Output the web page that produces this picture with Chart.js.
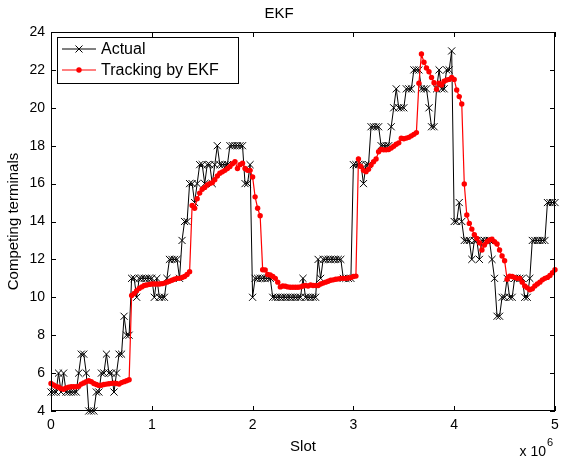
<!DOCTYPE html>
<html>
<head>
<meta charset="utf-8">
<script src="https://cdn.jsdelivr.net/npm/chart.js@4.4.0/dist/chart.umd.min.js"></script>
<style>
  html, body { margin: 0; padding: 0; background: #fff; }
</style>
</head>
<body>
<canvas id="ekfChart" width="561" height="460"></canvas>
<script>
// slot axis is in units of 10^6, one sample every 0.025 (= 25000 slots)
const slotStep = 0.025;

// actual number of competing terminals
const actualTerminals = [
  5, 5, 5, 6, 5, 6, 5, 5, 5, 5,
  5, 6, 7, 7, 6, 4, 4, 4, 5, 5,
  6, 6, 7, 6, 6, 5, 6, 7, 7, 9,
  8, 8, 11, 11, 10, 11, 11, 11, 11, 11,
  11, 10, 11, 10, 10, 10, 11, 12, 12, 12,
  12, 11, 13, 14, 14, 16, 16, 15, 16, 17,
  17, 16, 17, 17, 16, 17, 18, 17, 17, 17,
  17, 18, 18, 18, 18, 18, 18, 16, 16, 17,
  10, 11, 11, 11, 11, 11, 11, 11, 10, 10,
  10, 10, 10, 10, 10, 10, 10, 10, 10, 10,
  11, 10, 10, 10, 10, 10, 12, 11, 12, 12,
  12, 12, 12, 12, 12, 12, 11, 11, 11, 11,
  17, 17, 17, 17, 16, 17, 17, 19, 19, 19,
  19, 18, 18, 18, 18, 19, 20, 21, 20, 20,
  20, 21, 21, 21, 22, 22, 22, 21, 21, 21,
  20, 19, 19, 21, 22, 21, 21, 22, 22, 23,
  14, 14, 15, 14, 13, 13, 13, 12, 13, 13,
  12, 13, 13, 13, 13, 12, 11, 9, 9, 10,
  10, 11, 10, 10, 11, 11, 11, 11, 10, 10,
  11, 13, 13, 13, 13, 13, 13, 15, 15, 15,
  15
];

// EKF estimate of the number of competing terminals
const ekfTracking = [
  5.45, 5.37, 5.3, 5.25, 5.18, 5.15, 5.22, 5.25, 5.28, 5.28,
  5.28, 5.3, 5.42, 5.48, 5.55, 5.6, 5.55, 5.45, 5.4, 5.35,
  5.36, 5.4, 5.42, 5.44, 5.46, 5.47, 5.45, 5.42, 5.5, 5.55,
  5.6, 5.65, 10.1, 10.2, 10.35, 10.47, 10.55, 10.62, 10.65, 10.68,
  10.7, 10.7, 10.7, 10.7, 10.72, 10.75, 10.8, 10.85, 10.9, 10.95,
  11.0, 11.0, 11.05, 11.1, 11.2, 11.35, 14.85, 14.7, 15.2, 15.5,
  15.7, 15.8, 15.93, 16.0, 16.05, 16.2, 16.4, 16.55, 16.62, 16.7,
  16.8, 16.9, 17.05, 17.16, 16.8, 17.0, 17.07, 16.8, 16.7, 16.7,
  16.35, 15.3, 14.7, 14.3, 11.45, 11.44, 11.2, 11.18, 11.1, 11.0,
  10.8, 10.55, 10.6, 10.58, 10.55, 10.53, 10.53, 10.53, 10.53, 10.55,
  10.6, 10.62, 10.6, 10.65, 10.62, 10.62, 10.62, 10.7, 10.75, 10.8,
  10.85, 10.9, 10.92, 10.95, 10.97, 11.0, 11.0, 11.0, 11.02, 11.04,
  11.1, 11.12, 17.3, 16.9, 16.7, 16.63, 16.76, 16.98, 17.15, 17.3,
  17.68, 17.8, 17.78, 17.78, 17.8, 17.88, 17.97, 18.08, 18.15, 18.39,
  18.37, 18.4, 18.44, 18.52, 18.6, 18.69, 21.3, 22.84, 22.4, 22.1,
  21.9, 21.6, 21.32, 20.98, 21.3, 21.2, 21.4, 21.47, 21.5, 21.6,
  21.5, 20.94, 20.59, 20.2, 15.98, 14.34, 13.9, 13.6, 13.3, 13.1,
  12.88, 12.5, 12.76, 12.93, 13.02, 13.06, 12.93, 12.81, 12.5, 12.18,
  11.93, 10.95, 11.12, 11.1, 11.05, 11.0, 11.0, 10.8, 10.6, 10.5,
  10.4, 10.45, 10.6, 10.7, 10.8, 10.92, 11.0, 11.05, 11.15, 11.3,
  11.45
];

const xTicks = [0, 1, 2, 3, 4, 5];
const yTicks = [4, 6, 8, 10, 12, 14, 16, 18, 20, 22, 24];

const fontFamily = "'Liberation Sans', Arial, Helvetica, sans-serif";
const tickSize = 14;
const labelSize = 15;
const legendSize = 16;

//turn the two value lists into {x, y} points on the slot axis
const toPoints = (values) => values.map((v, i) => ({ x: i * slotStep, y: v }));

//MATLAB look: closed box, ticks pointing inside, legend box in the top left corner, x 10^6 exponent
const matlabFrame = {
  id: "matlabFrame",
  afterDraw(chart) {
    const { ctx, chartArea: a, scales } = chart;
    const tickLen = 5;
    ctx.save();
    ctx.strokeStyle = "#000";
    ctx.lineWidth = 1;
    ctx.strokeRect(Math.round(a.left) + 0.5, Math.round(a.top) + 0.5,
      Math.round(a.width) - 1, Math.round(a.height) - 1);

    ctx.beginPath();
    scales.x.ticks.forEach((t) => {
      const px = Math.round(scales.x.getPixelForValue(t.value)) + 0.5;
      ctx.moveTo(px, a.bottom); ctx.lineTo(px, a.bottom - tickLen);
      ctx.moveTo(px, a.top); ctx.lineTo(px, a.top + tickLen);
    });
    scales.y.ticks.forEach((t) => {
      const py = Math.round(scales.y.getPixelForValue(t.value)) + 0.5;
      ctx.moveTo(a.left, py); ctx.lineTo(a.left + tickLen, py);
      ctx.moveTo(a.right, py); ctx.lineTo(a.right - tickLen, py);
    });
    ctx.stroke();

    // legend
    const lx = a.left + 6, ly = a.top + 5, lw = 181, lh = 46;
    ctx.fillStyle = "#fff";
    ctx.fillRect(lx, ly, lw, lh);
    ctx.strokeRect(lx + 0.5, ly + 0.5, lw, lh);
    ctx.font = legendSize + "px " + fontFamily;
    ctx.textBaseline = "middle";
    ctx.textAlign = "left";
    const rows = [
      { text: "Actual", color: "#000", y: ly + 12 },
      { text: "Tracking by EKF", color: "#ff0000", y: ly + 33 },
    ];
    rows.forEach((r, k) => {
      ctx.strokeStyle = r.color;
      ctx.lineWidth = 1;
      ctx.beginPath();
      ctx.moveTo(lx + 5, r.y); ctx.lineTo(lx + 39, r.y);
      ctx.stroke();
      const mx = lx + 22;
      if (k === 0) {
        ctx.beginPath();
        ctx.moveTo(mx - 3.5, r.y - 3.5); ctx.lineTo(mx + 3.5, r.y + 3.5);
        ctx.moveTo(mx - 3.5, r.y + 3.5); ctx.lineTo(mx + 3.5, r.y - 3.5);
        ctx.stroke();
      } else {
        ctx.fillStyle = r.color;
        ctx.beginPath();
        ctx.arc(mx, r.y, 2.7, 0, Math.PI * 2);
        ctx.fill();
      }
      ctx.fillStyle = "#000";
      ctx.fillText(r.text, lx + 44, r.y + 1);
    });

    // exponent of the slot axis
    ctx.fillStyle = "#000";
    ctx.textBaseline = "alphabetic";
    ctx.textAlign = "right";
    ctx.font = tickSize + "px " + fontFamily;
    ctx.fillText("x 10", a.right - 9, 456);
    ctx.textAlign = "left";
    ctx.font = "11px " + fontFamily;
    ctx.fillText("6", a.right - 8, 446);
    ctx.restore();
  },
};

window.addEventListener("DOMContentLoaded", () => {
  const canvasElt = document.getElementById("ekfChart");
  const tickFont = { family: fontFamily, size: tickSize };
  const labelFont = { family: fontFamily, size: labelSize };

  const ekfChart = new Chart(canvasElt, {
    type: "line",
    data: {
      datasets: [
        {
          label: "Tracking by EKF",
          data: toPoints(ekfTracking),
          borderColor: "#ff0000",
          backgroundColor: "#ff0000",
          borderWidth: 1.2,
          pointStyle: "circle",
          pointRadius: 2.7,
          pointBorderWidth: 0,
          tension: 0,
          clip: false,
          order: 0,
        },
        {
          label: "Actual",
          data: toPoints(actualTerminals),
          borderColor: "#000",
          backgroundColor: "#000",
          borderWidth: 1,
          pointStyle: "crossRot",
          pointRadius: 5,
          pointBorderWidth: 1,
          tension: 0,
          clip: false,
          order: 1,
        },
      ],
    },
    options: {
      responsive: false,
      animation: false,
      layout: { padding: { left: 0, right: 3, top: 0, bottom: 0 } },
      plugins: {
        legend: { display: false },
        tooltip: { enabled: false },
        title: {
          display: true,
          text: "EKF",
          color: "#000",
          font: { family: fontFamily, size: labelSize, weight: "normal" },
          padding: { top: 5, bottom: 9 },
        },
      },
      scales: {
        x: {
          type: "linear",
          min: 0,
          max: 5,
          afterBuildTicks: (scale) => {
            scale.ticks = xTicks.map((v) => ({ value: v }));
          },
          afterFit: (scale) => {
            scale.height = 49;
            scale.paddingLeft = 0;
            scale.paddingRight = 0;
          },
          grid: { display: false, drawTicks: false },
          border: { display: false },
          ticks: { color: "#000", font: tickFont, padding: 6, maxRotation: 0 },
          title: {
            display: true,
            text: "Slot",
            color: "#000",
            font: labelFont,
            padding: { top: 0, bottom: 4 },
          },
        },
        y: {
          type: "linear",
          min: 4,
          max: 24,
          afterBuildTicks: (scale) => {
            scale.ticks = yTicks.map((v) => ({ value: v }));
          },
          afterFit: (scale) => {
            scale.width = 51;
            scale.paddingTop = 0;
            scale.paddingBottom = 0;
          },
          grid: { display: false, drawTicks: false },
          border: { display: false },
          ticks: { color: "#000", font: tickFont, padding: 6 },
          title: {
            display: true,
            text: "Competing terminals",
            color: "#000",
            font: labelFont,
            padding: { top: 5, bottom: 0 },
          },
        },
      },
    },
    plugins: [matlabFrame],
  });
});
</script>
</body>
</html>
